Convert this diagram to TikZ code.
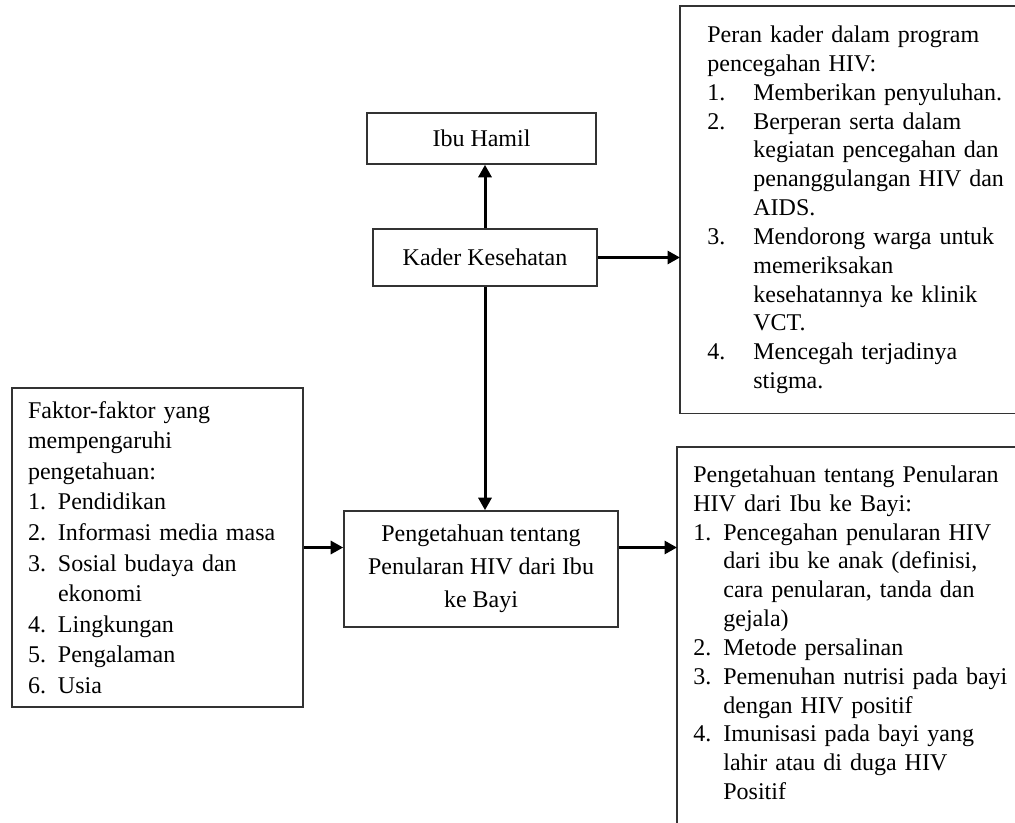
\documentclass[tikz,border=0pt]{standalone}
\usepackage{fontspec}
\setmainfont{Liberation Serif}
\usetikzlibrary{arrows.meta}

\tikzstyle{block} = [rectangle, draw=black!80, line width=0.9pt, text centered,
inner sep=0pt, font=\fontsize{13.66}{18.8}\selectfont]
\tikzstyle{listblock} = [rectangle, draw=black!80, line width=0.9pt, align=left,
inner ysep=0pt, font=\fontsize{13.66}{17.4}\selectfont]
\tikzstyle{openblock} = [rectangle, align=left, inner ysep=0pt, font=\fontsize{13.66}{16.4}\selectfont]
\tikzstyle{openline} = [draw=black!80, line width=0.9pt]
\tikzstyle{listtext} = [align=left, inner sep=0pt, font=\fontsize{13.66}{16.4}\selectfont]
\tikzstyle{arrow} = [line width=1.7pt, -{Triangle[length=0.25cm,width=0.26cm]}]

\newcommand{\nomor}[2][0.6cm]{\makebox[#1][l]{#2}}
\newcommand{\lanjut}[1][0.6cm]{\hspace*{#1}}

\begin{document}
\begin{tikzpicture}
    \useasboundingbox (0,0) rectangle (20.3,-16.46);
    \clip (0,0) rectangle (20.3,-16.46);
    % Kader kesehatan dan ibu hamil
    \node (kader) [block, minimum width=4.48cm, minimum height=1.14cm] at (9.70,-5.15) {Kader Kesehatan};
    \node (ibu) [block, minimum width=4.58cm, minimum height=1.02cm] at (9.63,-2.77) {Ibu Hamil};
    % Pengetahuan di tengah
    \node (tahu) [block, minimum width=5.48cm, minimum height=2.32cm, align=center] at (9.62,-11.38)
        {Pengetahuan tentang\\ Penularan HIV dari Ibu\\ ke Bayi};
    % Faktor-faktor di kiri
    \node (faktor) [listblock, text width=5.18cm, inner xsep=0.32cm, minimum height=6.38cm] at (3.15,-10.95)
        {Faktor-faktor yang\\
         mempengaruhi\\
         pengetahuan:\\
         \nomor{1.}Pendidikan\\
         \nomor{2.}Informasi media masa\\
         \nomor{3.}Sosial budaya dan\\
         \lanjut ekonomi\\
         \nomor{4.}Lingkungan\\
         \nomor{5.}Pengalaman\\
         \nomor{6.}Usia};
    % Peran kader (kanan atas), sisi kanan terpotong
    \node (peran) [openblock, anchor=north west, text width=6.6cm, inner xsep=0.54cm, minimum height=8.14cm] at (13.6,-0.12)
        {Peran kader dalam program\\
         pencegahan HIV:\\
         \nomor[0.92cm]{1.}Memberikan penyuluhan.\\
         \nomor[0.92cm]{2.}Berperan serta dalam\\
         \lanjut[0.92cm]kegiatan pencegahan dan\\
         \lanjut[0.92cm]penanggulangan HIV dan\\
         \lanjut[0.92cm]AIDS.\\
         \nomor[0.92cm]{3.}Mendorong warga untuk\\
         \lanjut[0.92cm]memeriksakan\\
         \lanjut[0.92cm]kesehatannya ke klinik\\
         \lanjut[0.92cm]VCT.\\
         \nomor[0.92cm]{4.}Mencegah terjadinya\\
         \lanjut[0.92cm]stigma.};
    \draw [openline] (peran.north east) -- (peran.north west) -- (peran.south west) -- (peran.south east);
    % Isi pengetahuan (kanan bawah), sisi kanan dan bawah terpotong
    \node (isi) [rectangle, anchor=north west, minimum width=8cm, minimum height=9cm] at (13.54,-8.94) {};
    \draw [openline] (isi.north east) -- (isi.north west) -- (isi.south west);
    \node (isitext) [listtext, anchor=north west, text width=7cm] at ([xshift=0.32cm, yshift=-0.37cm]isi.north west)
        {Pengetahuan tentang Penularan\\
         HIV dari Ibu ke Bayi:\\
         \nomor{1.}Pencegahan penularan HIV\\
         \lanjut dari ibu ke anak (definisi,\\
         \lanjut cara penularan, tanda dan\\
         \lanjut gejala)\\
         \nomor{2.}Metode persalinan\\
         \nomor{3.}Pemenuhan nutrisi pada bayi\\
         \lanjut dengan HIV positif\\
         \nomor{4.}Imunisasi pada bayi yang\\
         \lanjut lahir atau di duga HIV\\
         \lanjut Positif};
    % Panah
    \draw [arrow] (kader.north) -- (kader.north |- ibu.south);
    \draw [arrow] (kader.south) -- (kader.south |- tahu.north);
    \draw [arrow] (kader.east) -- (kader.east -| peran.west);
    \draw [arrow] (faktor.east) -- (faktor.east -| tahu.west);
    \draw [arrow] (faktor.east -| tahu.east) -- (faktor.east -| isi.west);
\end{tikzpicture}
\end{document}
